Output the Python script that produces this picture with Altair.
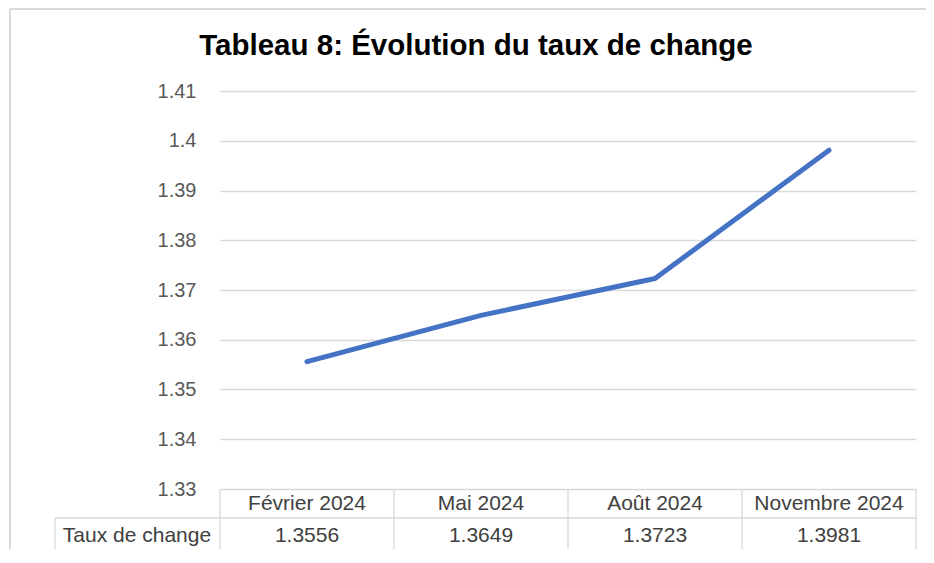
import altair as alt
import pandas as pd

months = ["Février 2024", "Mai 2024", "Août 2024", "Novembre 2024"]
rates = [1.3556, 1.3649, 1.3723, 1.3981]
rate_labels = ["1.3556", "1.3649", "1.3723", "1.3981"]
y_ticks = [1.33, 1.34, 1.35, 1.36, 1.37, 1.38, 1.39, 1.40, 1.41]
row_label = "Taux de change"
title_text = "Tableau 8: Évolution du taux de change"

df = pd.DataFrame({"month": months, "rate": rates, "label": rate_labels})
one = pd.DataFrame({"k": [0]})

W, H = 696, 398
FONT = "Liberation Sans"
GRID = "#d9d9d9"
TXT = "#404040"

xscale = alt.Scale(type="band", paddingInner=0, paddingOuter=0, domain=months)
X = alt.X("month:N", sort=months, scale=xscale, axis=None)

base = alt.Chart(df)

line = base.mark_line(color="#4472C4", strokeWidth=5, strokeCap="round", strokeJoin="round").encode(
    x=X,
    y=alt.Y("rate:Q", scale=alt.Scale(domain=[1.33, 1.41], nice=False, zero=False),
            axis=alt.Axis(values=y_ticks, format=".2~f", title=None, domain=False, ticks=False,
                          labelPadding=24, labelFontSize=20, labelFont=FONT, labelColor="#595959",
                          grid=True, gridColor=GRID, gridWidth=1.3)),
)

header = base.mark_text(font=FONT, fontSize=21, color=TXT, baseline="middle").encode(
    x=X, y=alt.value(413), text="month:N")
values = base.mark_text(font=FONT, fontSize=21, color=TXT, baseline="middle").encode(
    x=X, y=alt.value(445), text="label:N")

vlines = base.mark_rule(color=GRID, strokeWidth=1.3).encode(
    x=alt.X("month:N", sort=months, scale=xscale, axis=None, bandPosition=0),
    y=alt.value(398), y2=alt.value(460))
vlast = base.transform_filter(alt.datum.month == months[-1]).mark_rule(color=GRID, strokeWidth=1.3).encode(
    x=alt.X("month:N", sort=months, scale=xscale, axis=None, bandPosition=1),
    y=alt.value(398), y2=alt.value(460))

r = alt.Chart(one).mark_rule(color=GRID, strokeWidth=1.3)
h1 = r.encode(x=alt.value(-165), x2=alt.value(W), y=alt.value(427))
h2 = r.encode(x=alt.value(-165), x2=alt.value(W), y=alt.value(460))
vleft = r.encode(x=alt.value(-165), y=alt.value(427), y2=alt.value(460))

rowlab = alt.Chart(one).mark_text(font=FONT, fontSize=21, color=TXT, baseline="middle").encode(
    x=alt.value(-83), y=alt.value(445), text=alt.value(row_label))

title = alt.Chart(one).mark_text(font=FONT, fontSize=29.5, fontWeight="bold", color="#000000",
                                 baseline="alphabetic", align="center").encode(
    x=alt.value(256), y=alt.value(-36), text=alt.value(title_text))

frame_top = alt.Chart(one).mark_rule(color=GRID, strokeWidth=2).encode(
    x=alt.value(-210), x2=alt.value(730), y=alt.value(-82))
frame_left = alt.Chart(one).mark_rule(color=GRID, strokeWidth=2).encode(
    x=alt.value(-210), y=alt.value(-82), y2=alt.value(480))

chart = alt.layer(
    frame_top, frame_left, h1, h2, vleft, vlines, vlast, header, values, rowlab, title, line
).properties(
    width=W, height=H,
    autosize=alt.AutoSizeParams(type="none"),
    padding={"left": 212, "top": 83, "right": 10, "bottom": 60},
).configure_view(strokeWidth=0)

chart.save("out.html", embed_options={"renderer": "svg", "actions": False})
